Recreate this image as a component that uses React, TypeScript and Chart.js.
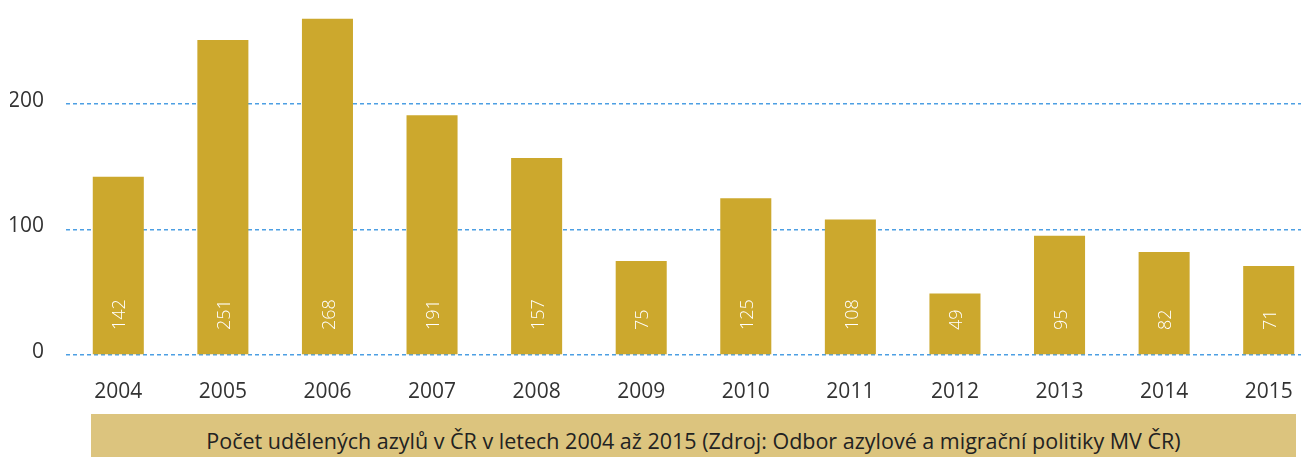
import React, { useEffect, useRef } from "react";
import { Chart, registerables } from "chart.js";

Chart.register(...registerables);

const years: string[] = ["2004", "2005", "2006", "2007", "2008", "2009", "2010", "2011", "2012", "2013", "2014", "2015"];
const asylums: number[] = [142, 251, 268, 191, 157, 75, 125, 108, 49, 95, 82, 71];
const yTicks: number[] = [0, 100, 200];
const caption = "Počet udělených azylů v ČR v letech 2004 až 2015 (Zdroj: Odbor azylové a migrační politiky MV ČR)";

const FONT = "'Open Sans', 'Noto Sans', sans-serif";

const valueLabels = {
  id: "valueLabels",
  afterDatasetsDraw(chart: any) {
    const ctx = chart.ctx;
    const meta = chart.getDatasetMeta(0);
    const base = chart.scales.y.getPixelForValue(0);
    ctx.save();
    ctx.fillStyle = "#ffffff";
    ctx.font = `300 18px ${FONT}`;
    ctx.textAlign = "left";
    ctx.textBaseline = "middle";
    meta.data.forEach((bar: any, i: number) => {
      ctx.save();
      ctx.translate(bar.x + 2, base - 25);
      ctx.rotate(-Math.PI / 2);
      ctx.fillText(String(asylums[i]), 0, 0);
      ctx.restore();
    });
    ctx.restore();
  },
};

export default function App() {
  const ref = useRef<HTMLCanvasElement | null>(null);

  useEffect(() => {
    document.body.style.margin = "0";
    const chart = new Chart(ref.current as HTMLCanvasElement, {
      type: "bar",
      data: {
        labels: years,
        datasets: [
          {
            data: asylums,
            backgroundColor: "#CCA82D",
            borderWidth: 0,
            barPercentage: 0.488,
            categoryPercentage: 1,
          },
        ],
      },
      options: {
        responsive: false,
        animation: false,
        layout: { autoPadding: false, padding: { top: 3.6, left: 10, right: 0, bottom: 1 } },
        plugins: { legend: { display: false }, tooltip: { enabled: false } },
        scales: {
          x: {
            grid: { display: false },
            border: { display: false },
            afterFit: (scale: any) => {
              scale.height = 44;
            },
            ticks: { color: "#333333", font: { family: FONT, size: 21 }, padding: 16, maxRotation: 0, autoSkip: false },
          },
          y: {
            min: 0,
            max: 280,
            afterBuildTicks: (scale: any) => {
              scale.ticks = yTicks.map((v) => ({ value: v }));
            },
            afterFit: (scale: any) => {
              scale.width = 56;
              scale.paddingTop = 0;
              scale.paddingBottom = 0;
            },
            grid: { color: "#4D9FE3", lineWidth: 1.5, drawTicks: false },
            border: { display: false, dash: [4, 3] },
            ticks: { color: "#333333", font: { family: FONT, size: 21 }, padding: 22, labelOffset: -3 },
          },
        },
      },
      plugins: [valueLabels],
    });
    return () => chart.destroy();
  }, []);

  return (
    <div style={{ position: "relative", width: 1301, height: 457, overflow: "hidden", background: "#fff" }}>
      <canvas ref={ref} width={1321} height={400} style={{ position: "absolute", left: 0, top: 0 }} />
      <div
        style={{
          position: "absolute",
          left: 91,
          top: 414,
          width: 1205,
          height: 52,
          background: "#DCC47E",
          color: "#222222",
          fontFamily: FONT,
          fontSize: 21.5,
          fontWeight: 500,
          display: "flex",
          alignItems: "center",
          justifyContent: "center",
        }}
      >
        {caption}
      </div>
    </div>
  );
}
